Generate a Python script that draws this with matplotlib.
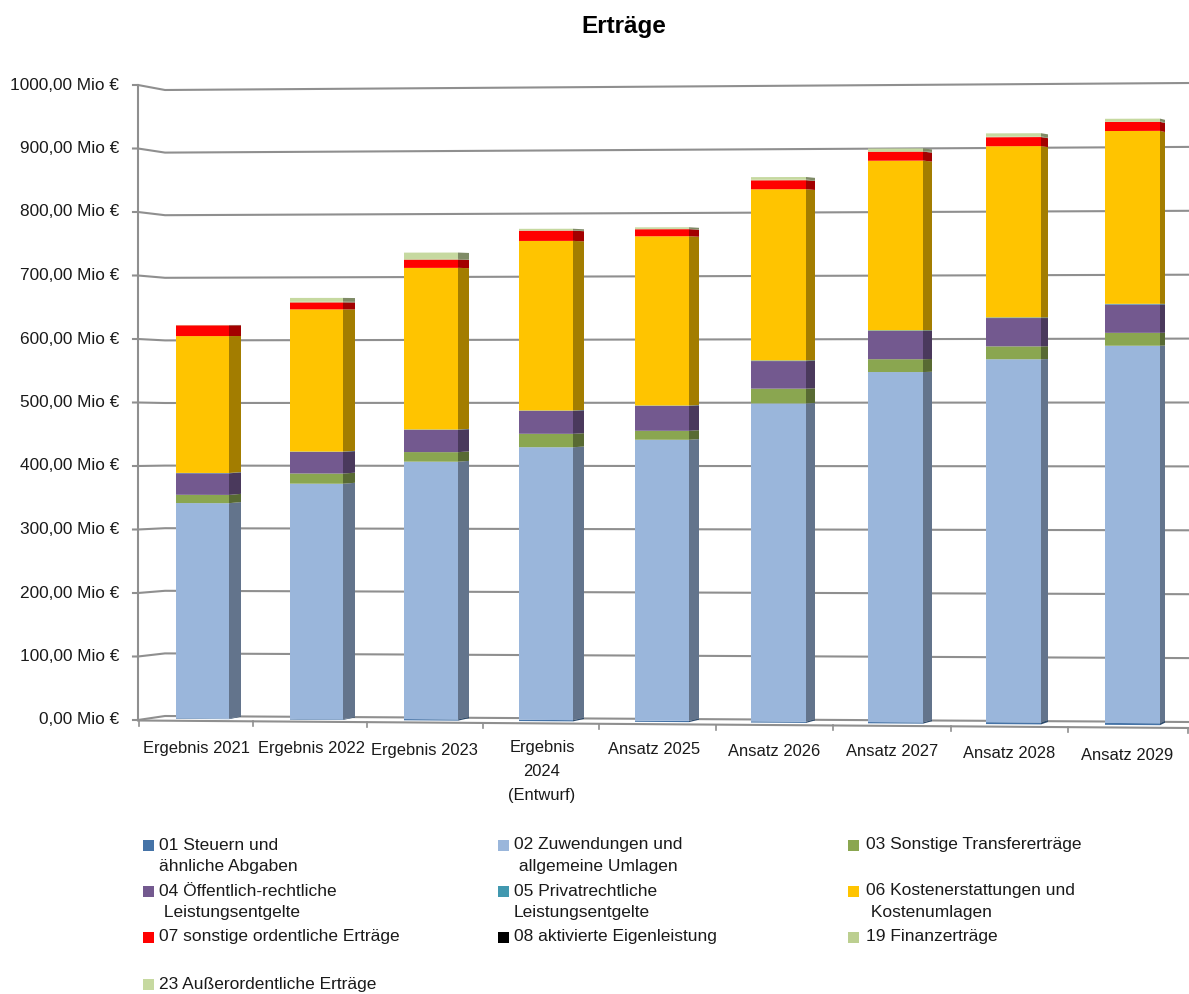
import matplotlib
matplotlib.use('Agg')
from matplotlib import pyplot as plt
from matplotlib.patches import Polygon, Rectangle
from matplotlib.colors import to_rgb

plt.rcParams['font.family'] = ['Liberation Sans', 'DejaVu Sans']

categories = ['Ergebnis 2021', 'Ergebnis 2022', 'Ergebnis 2023', 'Ergebnis\n2024\n(Entwurf)',
              'Ansatz 2025', 'Ansatz 2026', 'Ansatz 2027', 'Ansatz 2028', 'Ansatz 2029']
y_ticks = [0, 100, 200, 300, 400, 500, 600, 700, 800, 900, 1000]

# Mio Euro
steuern = [1, 1, 2, 2, 2, 2, 2, 3, 3]
zuwendungen = [339, 370, 404, 427, 439, 496, 545, 564, 585]
transfer = [13, 16, 15, 21, 14, 23, 20, 20, 20]
oeffentlich = [34, 34, 35, 36, 39, 43, 44, 44, 44]
privat = [0.5, 0.5, 0.5, 0.5, 0.5, 1, 1, 1, 1]
kosten = [215.5, 223.5, 253.5, 265.5, 264.5, 267, 264, 266, 268]
sonstige = [17, 11, 13, 16, 11, 14, 14, 14, 14]
aktiviert = [0, 0, 0, 0, 0, 0, 0, 0, 0]
finanz = [0.3, 1, 1, 0.5, 0.5, 1, 1, 1, 1]
ausserordentlich = [0.2, 6, 10, 2.5, 2.5, 4, 4, 5, 4]

series = [
    ('01 Steuern und\nähnliche Abgaben', steuern, '#4573a7'),
    ('02 Zuwendungen und\n allgemeine Umlagen', zuwendungen, '#9ab6db'),
    ('03 Sonstige Transfererträge', transfer, '#8aa650'),
    ('04 Öffentlich-rechtliche\n Leistungsentgelte', oeffentlich, '#73598f'),
    ('05 Privatrechtliche\nLeistungsentgelte', privat, '#4198af'),
    ('06 Kostenerstattungen und\n Kostenumlagen', kosten, '#ffc400'),
    ('07 sonstige ordentliche Erträge', sonstige, '#ff0000'),
    ('08 aktivierte Eigenleistung', aktiviert, '#000000'),
    ('19 Finanzerträge', finanz, '#bccf90'),
    ('23 Außerordentliche Erträge', ausserordentlich, '#c6d9a0'),
]

bar_left = [176, 290, 404, 519, 635, 751, 868, 986, 1105]
bar_right = [229, 343, 458, 573, 689, 806, 923, 1041, 1160]
bar_side = [241, 355, 469, 584, 699, 815, 932, 1048, 1165]
label_x = [196, 311, 424, 542, 654, 774, 892, 1009, 1127]
label_y = [748, 749, 750, 749, 750, 751, 752, 753, 755]
tick_x = [139, 253, 367, 483, 599, 716, 833, 951, 1068, 1188]

legend_x = [143, 498, 848]
legend_text_x = [159, 514, 866]
legend_y = [845, 891, 937, 984]

grid_color = '#8f8f8f'
fontsize = 11.9


def lerp(x, x0, y0, x1, y1):
    return y0 + (y1 - y0) * (x - x0) / (x1 - x0)


# slight perspective of the excel 3d chart: value -> pixel row depends on x
def front_y(x, v):
    base = lerp(x, 200, 719, 1130, 725)
    return base - v * lerp(x, 200, 0.635, 1130, 0.645)


def back_y(x, v):
    base = lerp(x, 200, 716.5, 1130, 722.5)
    return base - v * lerp(x, 200, 0.631, 1130, 0.641)


def wall_y(x, v):
    return lerp(v, 0, lerp(x, 165, 716, 1189, 722), 1000, lerp(x, 165, 90, 1189, 83))


def axis_y(v):
    return lerp(v, 0, 720, 1000, 85)


fig = plt.figure(figsize=(11.89, 9.94), dpi=100)
ax = fig.add_axes([0, 0, 1, 1])
ax.set_xlim(0, 1189)
ax.set_ylim(994, 0)
ax.axis('off')

ax.text(624, 27, 'Erträge', fontsize=17.5, fontweight='bold', ha='center', va='center', color='black')

# walls and grid
for v in y_ticks:
    ax.plot([133, 138, 165, 1189], [axis_y(v), axis_y(v), wall_y(165, v), wall_y(1189, v)],
            color=grid_color, lw=1.5, zorder=1)
    ax.text(119, axis_y(v), f'{v},00 Mio €', fontsize=12.4, ha='right', va='center', color='#1a1a1a')
ax.plot([138, 138], [axis_y(0), axis_y(1000)], color=grid_color, lw=1.5, zorder=1)
ax.plot([138, 1189], [720.5, 728], color=grid_color, lw=1.5, zorder=1)
for x in tick_x:
    y = lerp(x, 138, 720.5, 1189, 728)
    ax.plot([x, x], [y, y + 5], color=grid_color, lw=1.2, zorder=1)

# stacked bars, front face + darker side face
for i in range(len(categories)):
    xl, xr, xs = bar_left[i], bar_right[i], bar_side[i]
    total = 0
    for name, values, color in series:
        v = values[i]
        if v <= 0:
            continue
        low, high = total, total + v
        front = [(xl, front_y(xl, low)), (xr, front_y(xr, low)),
                 (xr, front_y(xr, high)), (xl, front_y(xl, high))]
        side = [(xr, front_y(xr, low)), (xs, back_y(xs, low)),
                (xs, back_y(xs, high)), (xr, front_y(xr, high))]
        dark = tuple(c * 0.64 for c in to_rgb(color))
        ax.add_patch(Polygon(side, closed=True, facecolor=dark, edgecolor='none', zorder=3))
        ax.add_patch(Polygon(front, closed=True, facecolor=color, edgecolor='none', zorder=4))
        total = high

for i, cat in enumerate(categories):
    if '\n' in cat:
        ax.text(label_x[i], label_y[i] - 9, cat, fontsize=fontsize, ha='center', va='top',
                linespacing=1.75, color='#1a1a1a')
    else:
        ax.text(label_x[i], label_y[i], cat, fontsize=fontsize, ha='center', va='center', color='#1a1a1a')

# legend, laid out by hand like the original
for i, (name, values, color) in enumerate(series):
    col = i % 3
    row = i // 3
    y = legend_y[row]
    ax.add_patch(Rectangle((legend_x[col], y - 5.5), 11, 11, facecolor=color, edgecolor='none'))
    ax.text(legend_text_x[col], y - 7.5, name, fontsize=12.5, ha='left', va='top', linespacing=1.58, color='#1a1a1a')

fig.savefig('out.png', dpi=100)
